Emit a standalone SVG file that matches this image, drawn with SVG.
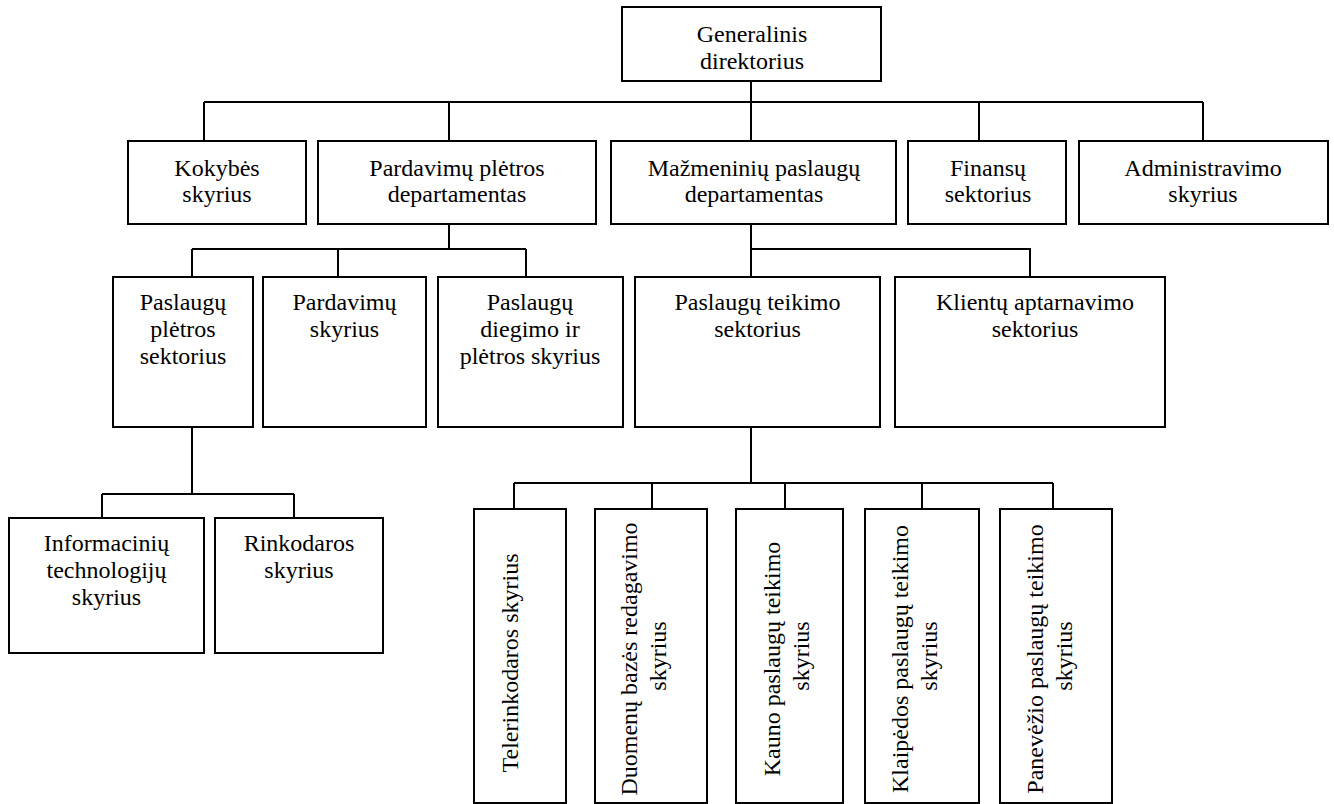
<svg xmlns="http://www.w3.org/2000/svg" width="1334" height="804" viewBox="0 0 1334 804">
  <style>
    .box { fill: #ffffff; stroke: #000000; stroke-width: 2; }
    .wire { fill: none; stroke: #000000; stroke-width: 2; }
    .lbl { font-size: 24px; fill: #000000; text-anchor: middle; }
  </style>
  <rect width="1334" height="804" fill="#ffffff"/>

  <!-- connectors -->
  <g id="connectors" class="wire">
    <path d="M751,81 V141"/>
    <path d="M204,102 H1203"/>
    <path d="M204,102 V141 M449,102 V141 M979,102 V141 M1203,102 V141"/>
    <path d="M449,224 V249 M192,249 H526 M192,249 V277 M338,249 V277 M526,249 V277"/>
    <path d="M751,224 V277 M751,249 H1030 V277"/>
    <path d="M192,427 V494 M102,494 H294 M102,494 V518 M294,494 V518"/>
    <path d="M751,427 V483 M514,483 H1053 M514,483 V509 M652,483 V509 M785,483 V509 M922,483 V509 M1053,483 V509"/>
  </g>

  <g class="lbl" font-family="'Liberation Serif', 'Times New Roman', Tinos, 'DejaVu Serif', serif">
  <!-- level 1 -->
  <g id="generalinis-direktorius">
    <rect class="box" x="622" y="7" width="259" height="74"/>
    <text x="752" y="42">Generalinis</text>
    <text x="752" y="68.5">direktorius</text>
  </g>

  <!-- level 2 -->
  <g id="kokybes-skyrius">
    <rect class="box" x="128" y="141" width="178" height="83"/>
    <text x="217" y="175.5">Kokybės</text>
    <text x="217" y="202">skyrius</text>
  </g>
  <g id="pardavimu-pletros-departamentas">
    <rect class="box" x="318" y="141" width="278" height="83"/>
    <text x="457" y="175.5">Pardavimų plėtros</text>
    <text x="457" y="202">departamentas</text>
  </g>
  <g id="mazmeniniu-paslaugu-departamentas">
    <rect class="box" x="611" y="141" width="285" height="83"/>
    <text x="754" y="175.5">Mažmeninių paslaugų</text>
    <text x="754" y="202">departamentas</text>
  </g>
  <g id="finansu-sektorius">
    <rect class="box" x="908" y="141" width="158" height="83"/>
    <text x="988" y="175.5">Finansų</text>
    <text x="988" y="202">sektorius</text>
  </g>
  <g id="administravimo-skyrius">
    <rect class="box" x="1079" y="141" width="249" height="83"/>
    <text x="1203" y="175.5">Administravimo</text>
    <text x="1203" y="202">skyrius</text>
  </g>

  <!-- level 3 -->
  <g id="paslaugu-pletros-sektorius">
    <rect class="box" x="113" y="277" width="140" height="150"/>
    <text x="183" y="310">Paslaugų</text>
    <text x="183" y="337">plėtros</text>
    <text x="183" y="364">sektorius</text>
  </g>
  <g id="pardavimu-skyrius">
    <rect class="box" x="263" y="277" width="163" height="150"/>
    <text x="344.5" y="310">Pardavimų</text>
    <text x="344.5" y="337">skyrius</text>
  </g>
  <g id="paslaugu-diegimo-ir-pletros-skyrius">
    <rect class="box" x="438" y="277" width="185" height="150"/>
    <text x="530" y="310">Paslaugų</text>
    <text x="530" y="337">diegimo ir</text>
    <text x="530" y="364">plėtros skyrius</text>
  </g>
  <g id="paslaugu-teikimo-sektorius">
    <rect class="box" x="635" y="277" width="245" height="150"/>
    <text x="757.5" y="309.5">Paslaugų teikimo</text>
    <text x="757.5" y="336.5">sektorius</text>
  </g>
  <g id="klientu-aptarnavimo-sektorius">
    <rect class="box" x="895" y="277" width="270" height="150"/>
    <text x="1035" y="309.5">Klientų aptarnavimo</text>
    <text x="1035" y="336.5">sektorius</text>
  </g>

  <!-- level 4, left branch -->
  <g id="informaciniu-technologiju-skyrius">
    <rect class="box" x="9" y="518" width="195" height="135"/>
    <text x="106.5" y="551">Informacinių</text>
    <text x="106.5" y="578">technologijų</text>
    <text x="106.5" y="605">skyrius</text>
  </g>
  <g id="rinkodaros-skyrius">
    <rect class="box" x="215" y="518" width="168" height="135"/>
    <text x="299" y="551">Rinkodaros</text>
    <text x="299" y="578">skyrius</text>
  </g>

  <!-- level 4, vertical-label units -->
  <g id="telerinkodaros-skyrius">
    <rect class="box" x="474" y="509" width="92" height="294"/>
    <text transform="translate(514,663) rotate(-90)" x="0" y="4">Telerinkodaros skyrius</text>
  </g>
  <g id="duomenu-bazes-redagavimo-skyrius">
    <rect class="box" x="595" y="509" width="112" height="294"/>
    <text transform="translate(651,656) rotate(-90)">
      <tspan x="0" y="-14">Duomenų bazės redagavimo</tspan>
      <tspan x="0" y="15">skyrius</tspan>
    </text>
  </g>
  <g id="kauno-paslaugu-teikimo-skyrius">
    <rect class="box" x="736" y="509" width="107" height="294"/>
    <text transform="translate(794,656) rotate(-90)">
      <tspan x="0" y="-14">Kauno paslaugų teikimo</tspan>
      <tspan x="0" y="15">skyrius</tspan>
    </text>
  </g>
  <g id="klaipedos-paslaugu-teikimo-skyrius">
    <rect class="box" x="865" y="509" width="114" height="294"/>
    <text transform="translate(922,656) rotate(-90)">
      <tspan x="0" y="-14">Klaipėdos paslaugų teikimo</tspan>
      <tspan x="0" y="15">skyrius</tspan>
    </text>
  </g>
  <g id="panevezio-paslaugu-teikimo-skyrius">
    <rect class="box" x="1000" y="509" width="112" height="294"/>
    <text transform="translate(1057,656) rotate(-90)">
      <tspan x="0" y="-14">Panevėžio paslaugų teikimo</tspan>
      <tspan x="0" y="15">skyrius</tspan>
    </text>
  </g>
  </g>
</svg>
